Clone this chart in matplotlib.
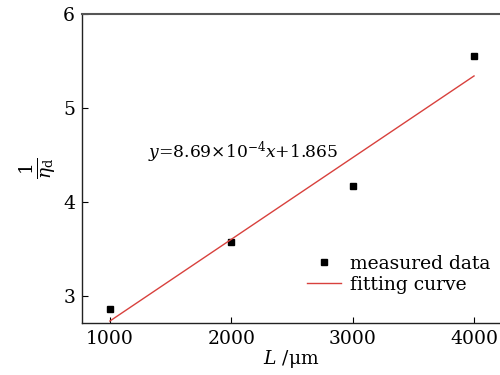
import numpy as np
import matplotlib
matplotlib.use("Agg")
import matplotlib.pyplot as plt

L_um = [1000, 2000, 3000, 4000]
inv_eta = [2.865, 3.578, 4.17, 5.556]

# fitted line y = 8.69e-4 x + 1.865
slope = 8.69e-4
intercept = 1.865
fit_x = np.array([1000, 4000])
fit_y = slope * fit_x + intercept

x_ticks = [1000, 2000, 3000, 4000]
y_ticks = [3, 4, 5, 6]

plt.rcParams['font.family'] = ['DejaVu Serif']
plt.rcParams['mathtext.fontset'] = 'dejavuserif'

fig = plt.figure(figsize=(5, 3.75), dpi=100)
ax = fig.add_axes([82/500, 1 - 323/375, 1 - 82/500, (323 - 14)/375])

ax.plot(L_um, inv_eta, 's', color='black', ms=5, label='measured data')
ax.plot(fit_x, fit_y, '-', color='#d8413d', lw=1.0, label='fitting curve')

ax.set_xlim(770, 4214)
ax.set_ylim(2.713, 6.0)
ax.set_xticks(x_ticks)
ax.set_yticks(y_ticks)
ax.tick_params(direction='in', length=4, width=0.8, labelsize=13.5, top=False, right=False, pad=5)

ax.spines['right'].set_visible(False)
ax.spines['top'].set_color('#555555')
ax.spines['top'].set_linewidth(1.5)
for s in ['left', 'bottom']:
    ax.spines[s].set_color('#222222')
    ax.spines[s].set_linewidth(1.0)

ax.text(1310, 4.53, r'$y$=8.69$\times$10$^{-4}$$x$+1.865', fontsize=12.3, va='center', ha='left')

ax.set_xlabel(r'$L$ /μm', fontsize=13.5, labelpad=0)
ax.set_ylabel(r'$\frac{1}{\eta_\mathrm{d}}$', fontsize=19, rotation=90, labelpad=4)

ax.legend(loc='lower right', bbox_to_anchor=(0.995, 0.07), frameon=False, fontsize=13.5,
          handlelength=1.8, handletextpad=0.5, labelspacing=0.15, borderaxespad=0)

fig.savefig('out.png', dpi=100)
